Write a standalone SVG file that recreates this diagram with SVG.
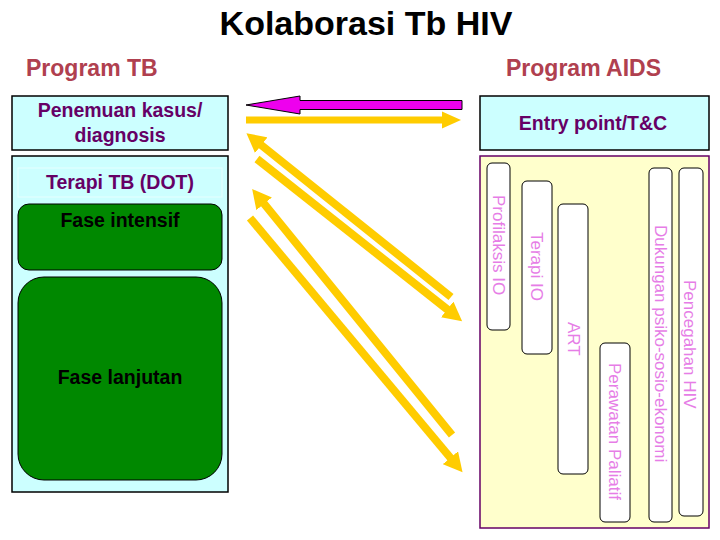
<svg xmlns="http://www.w3.org/2000/svg" width="720" height="540" viewBox="0 0 720 540">
<defs>
<style>
.title{font-family:"Liberation Sans",Arial,sans-serif;font-weight:bold;font-size:34px;fill:#000;text-anchor:middle}
.prog{font-family:"Liberation Sans",Arial,sans-serif;font-weight:bold;font-size:23px;fill:#b0404f}
.box{fill:#ccffff;stroke:#000;stroke-width:1.5}
.lbl{font-family:"Liberation Sans",Arial,sans-serif;font-weight:bold;font-size:19.5px;fill:#660066;text-anchor:middle}
.phase{fill:#008800;stroke:#000;stroke-width:1}
.plbl{font-family:"Liberation Sans",Arial,sans-serif;font-weight:bold;font-size:19.5px;fill:#000;text-anchor:middle}
.bar{fill:#fff;stroke:#000;stroke-width:1}
.vl{font-family:"Liberation Sans",Arial,sans-serif;font-size:17px;fill:#e67de6}
.ya{stroke:#ffcc00;stroke-width:8;fill:none}
</style>
<marker id="yh" markerUnits="userSpaceOnUse" viewBox="0 -10 20 20" markerWidth="20" markerHeight="20" refX="1" refY="0" orient="auto">
<path d="M0,-10 L19,0 L0,10 z" fill="#ffcc00"/>
</marker>
<marker id="yh2" markerUnits="userSpaceOnUse" viewBox="0 -9 20 18" markerWidth="20" markerHeight="18" refX="1" refY="0" orient="auto">
<path d="M0,-8.5 L19,0 L0,8.5 z" fill="#ffcc00"/>
</marker>
</defs>
<rect width="720" height="540" fill="#fff"/>
<text class="title" x="366" y="35">Kolaborasi Tb HIV</text>
<text class="prog" x="26" y="76">Program TB</text>
<text class="prog" x="506" y="76">Program AIDS</text>

<g id="penemuan">
<rect class="box" x="12" y="96" width="216" height="54"/>
<text class="lbl" x="120" y="117">Penemuan kasus/</text>
<text class="lbl" x="120" y="142">diagnosis</text>
</g>

<g id="terapi-tb">
<rect class="box" x="12" y="156" width="216" height="336"/>
<rect x="18" y="168" width="204" height="29" fill="#ccffff" stroke="#e6ffff" stroke-width="1"/>
<text class="lbl" x="120" y="189">Terapi TB (DOT)</text>
</g>

<g id="fase-intensif">
<rect class="phase" x="18" y="204" width="204" height="66" rx="11" ry="11"/>
<text class="plbl" x="120" y="227">Fase intensif</text>
</g>

<g id="fase-lanjutan">
<rect class="phase" x="18" y="277" width="204" height="203" rx="26" ry="26"/>
<text class="plbl" x="120" y="384">Fase lanjutan</text>
</g>

<g id="entry-point">
<rect class="box" x="480" y="96" width="229" height="54"/>
<text class="lbl" x="593" y="130">Entry point/T&amp;C</text>
</g>

<g id="aids-panel">
<rect x="480" y="156" width="229" height="372" fill="#ffffcc" stroke="#660066" stroke-width="1.5"/>
</g>

<g id="profilaksis-io">
<rect class="bar" x="487" y="163" width="23" height="167" rx="5"/>
<text class="vl" transform="translate(493,195) rotate(90)">Profilaksis IO</text>
</g>
<g id="terapi-io">
<rect class="bar" x="522" y="181" width="30" height="173" rx="5"/>
<text class="vl" transform="translate(531,232) rotate(90)">Terapi IO</text>
</g>
<g id="art">
<rect class="bar" x="558" y="204" width="30" height="270" rx="5"/>
<text class="vl" transform="translate(568,322) rotate(90)">ART</text>
</g>
<g id="perawatan-paliatif">
<rect class="bar" x="600" y="343" width="30" height="179" rx="5"/>
<text class="vl" transform="translate(609,363) rotate(90)">Perawatan Paliatif</text>
</g>
<g id="dukungan">
<rect class="bar" x="649" y="168" width="23" height="354" rx="5"/>
<text class="vl" transform="translate(655,225) rotate(90)">Dukungan psiko-sosio-ekonomi</text>
</g>
<g id="pencegahan-hiv">
<rect class="bar" x="679" y="168" width="24" height="348" rx="5"/>
<text class="vl" transform="translate(684,280) rotate(90)">Pencegahan HIV</text>
</g>

<g id="connectors">
<polygon points="462,100.5 300,100.5 300,96 246,105 300,114 300,109.5 462,109.5" fill="#ee00ee" stroke="#000" stroke-width="1"/>
<line x1="246" y1="120" x2="443" y2="120" stroke="#ffcc00" stroke-width="7" marker-end="url(#yh2)"/>
<line class="ya" x1="451" y1="297" x2="260.5" y2="144.5" marker-end="url(#yh)"/>
<line class="ya" x1="257" y1="159" x2="448" y2="310" marker-end="url(#yh)"/>
<line class="ya" x1="452" y1="435" x2="263.5" y2="203" marker-end="url(#yh)"/>
<line class="ya" x1="250" y1="218" x2="451" y2="458.5" marker-end="url(#yh)"/>
</g>
</svg>
